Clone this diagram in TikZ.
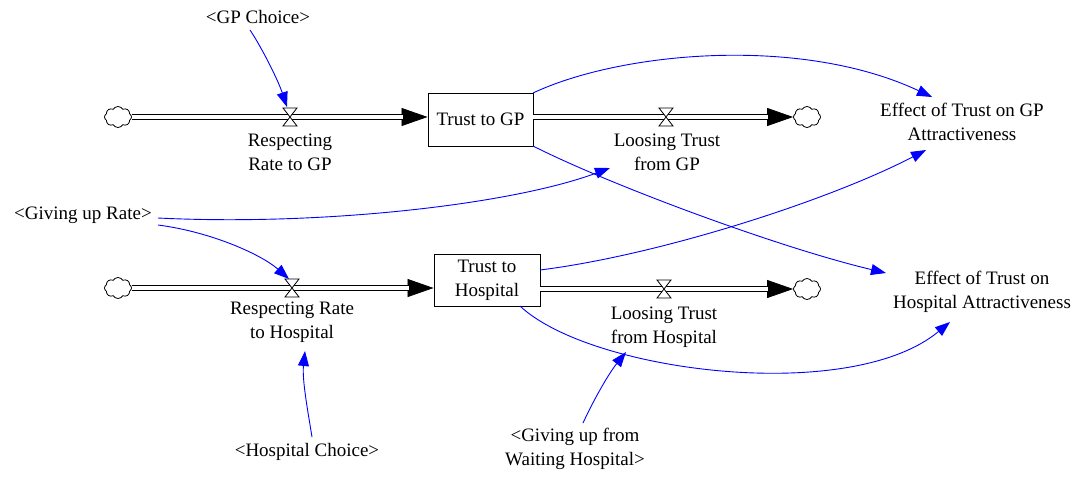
\documentclass[tikz,border=0pt]{standalone}
\usepackage{fontspec}
\setmainfont{Liberation Serif}
\usetikzlibrary{arrows.meta,shapes.symbols}
\begin{document}
\begin{tikzpicture}[x=1pt,y=-1pt,
  txt/.style={inner sep=0pt,align=center,font=\fontsize{19}{24}\selectfont},
  stock/.style={draw,line width=0.9pt,inner sep=0pt,align=center,font=\fontsize{19}{24}\selectfont},
  src/.style={cloud,draw,cloud puffs=8,cloud puff arc=120,aspect=1.3,minimum width=27pt,minimum height=21pt,inner sep=0pt,line width=0.8pt,fill=white},
  flowline/.style={line width=0.8pt,-{Triangle[length=26pt,width=18pt]}},
  pipe/.style={double distance=3.4pt,line width=1.2pt,shorten >=25pt},
  link/.style={blue,line width=0.9pt,-{Triangle[length=15pt,width=11pt]}},
  valve/.style={draw,line width=0.8pt,fill=white}
]
\useasboundingbox (0,0) rectangle (1082,477);

% stocks
\node[stock,minimum width=105pt,minimum height=53pt] (gp) at (480.5,119.5) {Trust to GP};
\node[stock,minimum width=106pt,minimum height=52pt] (hosp) at (487,280) {Trust to\\Hospital};

% clouds
\node[src] (c1) at (118,117) {};
\node[src] (c2) at (807,117) {};
\node[src] (c3) at (118,288) {};
\node[src] (c4) at (807,289) {};

% valve positions
\coordinate (v1) at (290,117);
\coordinate (v2) at (666,117);
\coordinate (v3) at (292,288);
\coordinate (v4) at (664,289);

% pipes
\draw[flowline] (c1.east) -- (gp.west |- c1.east);
\draw[pipe] (c1.east) -- (gp.west |- c1.east);
\draw[flowline] (gp.east |- c2.west) -- (c2.west);
\draw[pipe] (gp.east |- c2.west) -- (c2.west);
\draw[flowline] (c3.east) -- (hosp.west |- c3.east);
\draw[pipe] (c3.east) -- (hosp.west |- c3.east);
\draw[flowline] (hosp.east |- c4.west) -- (c4.west);
\draw[pipe] (hosp.east |- c4.west) -- (c4.west);

% valves
\foreach \v in {v1,v2,v3,v4}{
  \draw[valve] (\v) ++(-7,-9) -- ++(14,0) -- ++(-14,18) -- ++(14,0) -- cycle;
}

% labels
\node[txt] (r1) at (290,152) {Respecting\\Rate to GP};
\node[txt] (l1) at (667,152) {Loosing Trust\\from GP};
\node[txt] (r2) at (292,322) {Respecting Rate\\to Hospital};
\node[txt] (l2) at (664,327) {Loosing Trust\\from Hospital};
\node[txt] (egp) at (962,122) {Effect of Trust on GP\\Attractiveness};
\node[txt] (eh) at (982,292) {Effect of Trust on\\Hospital Attractiveness};
\node[txt] (gpc) at (258,17) {<GP Choice>};
\node[txt] (gur) at (83,215) {<Giving up Rate>};
\node[txt] (hc) at (307,452) {<Hospital Choice>};
\node[txt] (guw) at (575,449) {<Giving up from\\Waiting Hospital>};

% links
\coordinate (gpcS) at (250,30);
\coordinate (v1T) at (287,107);
\draw[link] (gpcS) .. controls (262,48) and (278,80) .. (v1T);

\coordinate (gpTR) at (533,93);
\coordinate (egpA) at (932,97);
\draw[link] (gpTR) .. controls (620,52) and (800,35) .. (egpA);

\coordinate (gpBR) at (533,146);
\coordinate (ehA) at (886,273);
\draw[link] (gpBR) .. controls (610,185) and (780,248) .. (ehA);

\coordinate (gurR) at (158,218);
\coordinate (l1B) at (610,168);
\draw[link] (gurR) .. controls (320,226) and (510,205) .. (l1B);

\coordinate (gurR2) at (158,225);
\coordinate (v3T) at (289,279);
\draw[link] (gurR2) .. controls (212,232) and (262,255) .. (v3T);

\coordinate (hR) at (540,270);
\coordinate (egpB) at (926,150);
\draw[link] (hR) .. controls (660,255) and (830,200) .. (egpB);

\coordinate (hB) at (520,306);
\coordinate (ehB) at (950,322);
\draw[link] (hB) .. controls (590,372) and (850,405) .. (ehB);

\coordinate (hcT) at (312,437);
\coordinate (r2B) at (305,351);
\draw[link] (hcT) .. controls (308,412) and (302,380) .. (r2B);

\coordinate (guwT) at (583,423);
\coordinate (l2B) at (626,352);
\draw[link] (guwT) .. controls (596,395) and (610,372) .. (l2B);
\end{tikzpicture}
\end{document}
